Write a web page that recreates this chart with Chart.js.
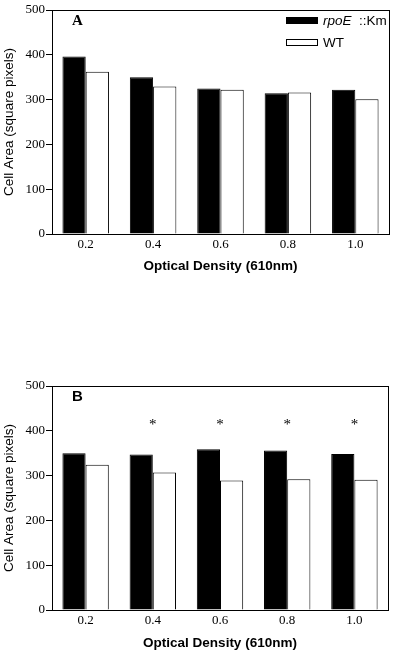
<!DOCTYPE html>
<html>
<head>
<meta charset="utf-8">
<script src="https://cdn.jsdelivr.net/npm/chart.js@4/dist/chart.umd.min.js"></script>
<style>
  body { margin: 0; background: #fff; }
  .panel { position: absolute; left: 0; }
</style>
</head>
<body>
<div class="panel" style="top:0"><canvas id="chartA" width="400" height="300"></canvas></div>
<div class="panel" style="top:360px"><canvas id="chartB" width="400" height="293"></canvas></div>
<script>
const odLabels = ['0.2', '0.4', '0.6', '0.8', '1.0'];
const mutantA = [396, 350, 325, 314, 322];
const wildA = [362, 329, 322, 316, 301];
const mutantB = [350, 347, 359, 356, 348];
const wildB = [324, 307, 289, 292, 291];
const starsB = [false, true, true, true, true];

const SERIF = '"Liberation Serif", "Times New Roman", serif';
const SANS = '"Liberation Sans", Arial, sans-serif';

// frame on top + right, panel letter, legend and asterisks
const decorations = {
  id: 'decorations',
  afterDraw(chart, args, opts) {
    const { ctx, chartArea: a, scales } = chart;
    ctx.save();
    ctx.strokeStyle = '#000';
    ctx.lineWidth = 1;
    ctx.strokeRect(Math.round(a.left) + 0.5, Math.round(a.top) + 0.5,
      Math.round(a.right - a.left), Math.round(a.bottom - a.top));

    ctx.fillStyle = '#000';
    ctx.textBaseline = 'alphabetic';
    ctx.textAlign = 'left';
    ctx.font = opts.letterFont;
    ctx.fillText(opts.letter, a.left + 20, a.top + 15);

    if (opts.legend) {
      const x0 = a.right - 103;
      const rows = [{ fill: '#000', y: a.top + 10 }, { fill: '#fff', y: a.top + 32 }];
      rows.forEach((r) => {
        ctx.fillStyle = r.fill;
        ctx.fillRect(x0, r.y - 3, 31, 6);
        ctx.strokeRect(x0 + 0.5, r.y - 3 + 0.5, 31, 6);
      });
      ctx.fillStyle = '#000';
      ctx.textBaseline = 'middle';
      ctx.font = 'italic 13.5px ' + SANS;
      ctx.fillText('rpoE', x0 + 37, rows[0].y + 1);
      const w = ctx.measureText('rpoE ').width;
      ctx.font = '13.5px ' + SANS;
      ctx.fillText(' ::Km', x0 + 37 + w, rows[0].y + 1);
      ctx.fillText('WT', x0 + 37, rows[1].y + 1);
    }

    if (opts.stars) {
      ctx.font = '15px ' + SERIF;
      ctx.textAlign = 'center';
      ctx.textBaseline = 'middle';
      opts.stars.forEach((s, i) => {
        if (!s) return;
        ctx.fillText('*', scales.x.getPixelForValue(i), scales.y.getPixelForValue(opts.starLevel) + 2);
      });
    }
    ctx.restore();
  }
};

function makeChart(id, mutant, wild, cfg) {
  return new Chart(document.getElementById(id), {
    type: 'bar',
    data: {
      labels: odLabels,
      datasets: [
        { label: 'rpoE ::Km', data: mutant, backgroundColor: '#000', borderColor: '#000', borderWidth: 1 },
        { label: 'WT', data: wild, backgroundColor: '#fff', borderColor: '#000', borderWidth: 1 }
      ]
    },
    options: {
      responsive: false,
      animation: false,
      layout: { padding: { top: cfg.padTop, right: cfg.padRight, left: 0, bottom: 0 } },
      datasets: { bar: { barPercentage: 1, categoryPercentage: 0.69 } },
      plugins: {
        legend: { display: false },
        tooltip: { enabled: false },
        decorations: cfg.deco
      },
      scales: {
        x: {
          grid: { display: false, drawTicks: false },
          border: { display: true, color: '#000', width: 1 },
          ticks: { color: '#000', font: { family: SERIF, size: 13 }, padding: 3 },
          title: {
            display: true, text: 'Optical Density (610nm)', color: '#000',
            font: { family: SANS, size: 13.5, weight: 'bold' },
            padding: { top: 0, bottom: cfg.xTitlePad }
          },
          afterFit(scale) { scale.height = cfg.xHeight; }
        },
        y: {
          min: 0, max: 500,
          grid: { drawOnChartArea: false, drawTicks: true, tickLength: 6, color: '#000' },
          border: { display: true, color: '#000', width: 1 },
          ticks: { stepSize: 100, color: '#000', font: { family: SERIF, size: 13 }, padding: 1 },
          title: {
            display: true, text: 'Cell Area (square pixels)', color: '#000',
            font: { family: SANS, size: 13.5 },
            padding: { top: 1, bottom: 0 }
          },
          afterFit(scale) { scale.width = 52; }
        }
      }
    },
    plugins: [decorations]
  });
}

makeChart('chartA', mutantA, wildA, {
  padTop: 10, padRight: 11, xHeight: 66, xTitlePad: 26,
  deco: { letter: 'A', letterFont: 'bold 15px ' + SERIF, legend: true }
});

makeChart('chartB', mutantB, wildB, {
  padTop: 26, padRight: 12, xHeight: 43, xTitlePad: 2,
  deco: { letter: 'B', letterFont: 'bold 15px ' + SANS, stars: starsB, starLevel: 418 }
});
</script>
</body>
</html>
